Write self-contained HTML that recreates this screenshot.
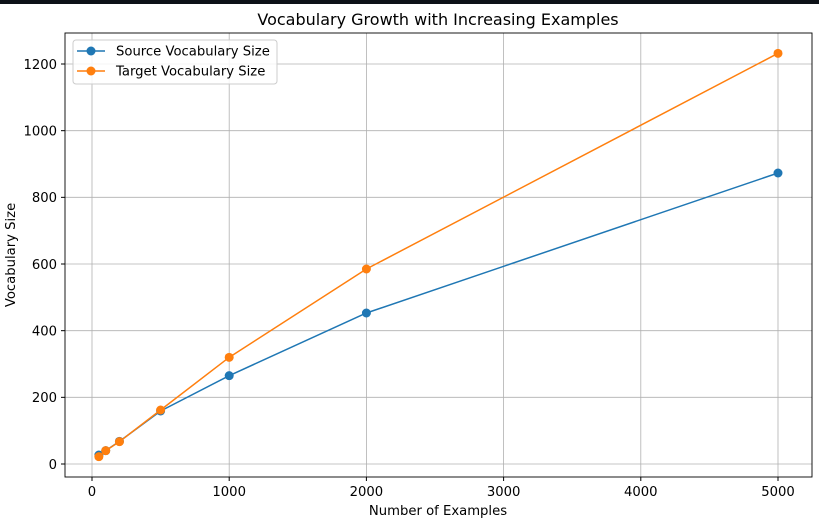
<!DOCTYPE html>
<html><head><meta charset="utf-8"><style>
body{margin:0;background:#fff;font-family:"Liberation Sans","DejaVu Sans",sans-serif;}
svg text{font-family:"DejaVu Sans","Liberation Sans",sans-serif;}
</style></head><body>
<svg id="c" width="819" height="524">
<rect x="0" y="0" width="819" height="4" fill="#0d1117"/>
<text x="438" y="25" font-size="16" text-anchor="middle">Vocabulary Growth with Increasing Examples</text>
<g id="grid"></g><g id="ticks"></g><g id="series"></g>
<rect x="65" y="33" width="747" height="444" fill="none" stroke="#000" stroke-width="0.9"/>
<text x="438" y="515" font-size="13.2" text-anchor="middle">Number of Examples</text>
<text transform="translate(15,255) rotate(-90)" font-size="13.2" text-anchor="middle">Vocabulary Size</text>
<g>
<rect x="73" y="40" width="204" height="44" rx="3" fill="#fff" fill-opacity="0.85" stroke="#ccc"/>
<g><line x1="77" y1="51" x2="105" y2="51" stroke="#1f77b4" stroke-width="1.5"/><circle cx="91" cy="51" r="4.5" fill="#1f77b4"/><text x="116" y="55.5" font-size="13.2">Source Vocabulary Size</text></g>
<g><line x1="77" y1="71" x2="105" y2="71" stroke="#ff7f0e" stroke-width="1.5"/><circle cx="91" cy="71" r="4.5" fill="#ff7f0e"/><text x="116" y="75.5" font-size="13.2">Target Vocabulary Size</text></g>
</g>
</svg>
<script>
const examples=[50,100,200,500,1000,2000,5000];
const sourceVocab=[27,40,68,159,265,453,873];
const targetVocab=[22,40,67,162,320,585,1232];
const xTicks=[0,1000,2000,3000,4000,5000];
const yTicks=[0,200,400,600,800,1000,1200];
const NS="http://www.w3.org/2000/svg";
const X=v=>92+v*0.1372, Y=v=>464-v*0.33333;
function mk(t,a,p){const e=document.createElementNS(NS,t);for(const k in a)e.setAttribute(k,a[k]);document.getElementById(p).appendChild(e);return e;}
xTicks.forEach(t=>{
 const g=mk('line',{x1:X(t),x2:X(t),y1:33,y2:477,stroke:'#b0b0b0','stroke-width':0.8},'grid');
 
 
 mk('line',{x1:X(t),x2:X(t),y1:477,y2:481,stroke:'#000'},'ticks');
 const tx=mk('text',{x:X(t),y:496,'font-size':13.2,'text-anchor':'middle'},'ticks');tx.textContent=t;
 
 
});
yTicks.forEach(t=>{
 const g=mk('line',{x1:65,x2:812,y1:Y(t),y2:Y(t),stroke:'#b0b0b0','stroke-width':0.8},'grid');
 
 
 mk('line',{x1:61,x2:65,y1:Y(t),y2:Y(t),stroke:'#000'},'ticks');
 const tx=mk('text',{x:57,y:Y(t)+4.8,'font-size':13.2,'text-anchor':'end'},'ticks');tx.textContent=t;
 
 
});
[[sourceVocab,'#1f77b4','source'],[targetVocab,'#ff7f0e','target']].forEach(([d,c,n])=>{
 const p=mk('polyline',{points:examples.map((x,i)=>X(x)+','+Y(d[i])).join(' '),fill:'none',stroke:c,'stroke-width':1.5},'series');
 
 
 examples.forEach((x,i)=>{const m=mk('circle',{cx:X(x),cy:Y(d[i]),r:4.5,fill:c},'series');
  
  });
});
</script>
</body></html>
